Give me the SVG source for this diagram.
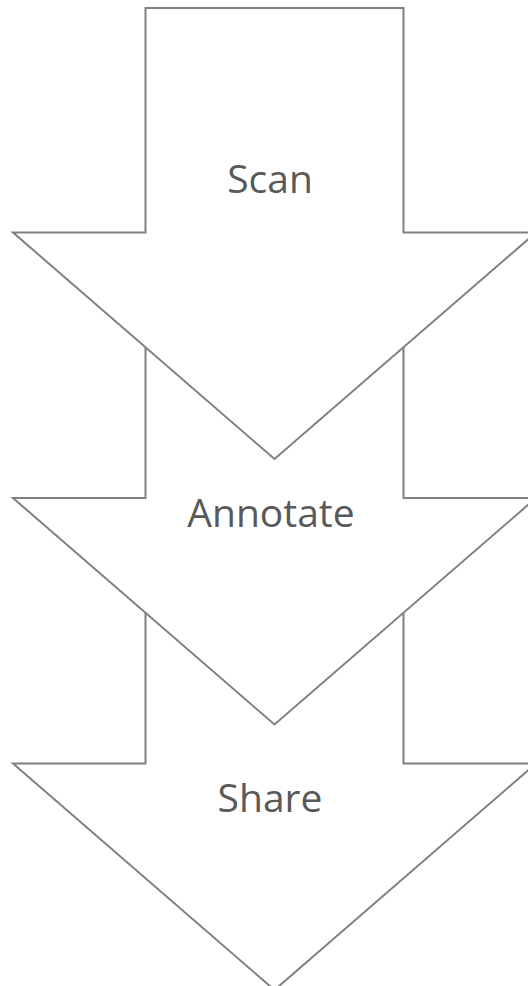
<svg xmlns="http://www.w3.org/2000/svg" width="528" height="986" viewBox="0 0 528 986">
<style>
.arrow{fill:#ffffff;stroke:#808080;stroke-width:2;stroke-linejoin:miter}
.lbl{font-family:"Open Sans","Liberation Sans",sans-serif;font-size:39px;fill:#595959;text-anchor:middle}
</style>
<rect width="528" height="986" fill="#ffffff"/>
<g id="connectors"></g>
<g id="share">
<path class="arrow" d="M145.5,539 H403.5 V763.5 H536 L274.5,990 L13,763.5 H145.5 Z"/>
<text class="lbl" x="270" y="812">Share</text>
</g>
<g id="annotate">
<path class="arrow" d="M145.5,273.5 H403.5 V498 H536 L274.5,724.5 L13,498 H145.5 Z"/>
<text class="lbl" x="271" y="527">Annotate</text>
</g>
<g id="scan">
<path class="arrow" d="M145.5,8 H403.5 V232.5 H536 L274.5,459 L13,232.5 H145.5 Z"/>
<text class="lbl" x="270" y="193">Scan</text>
</g>
</svg>
